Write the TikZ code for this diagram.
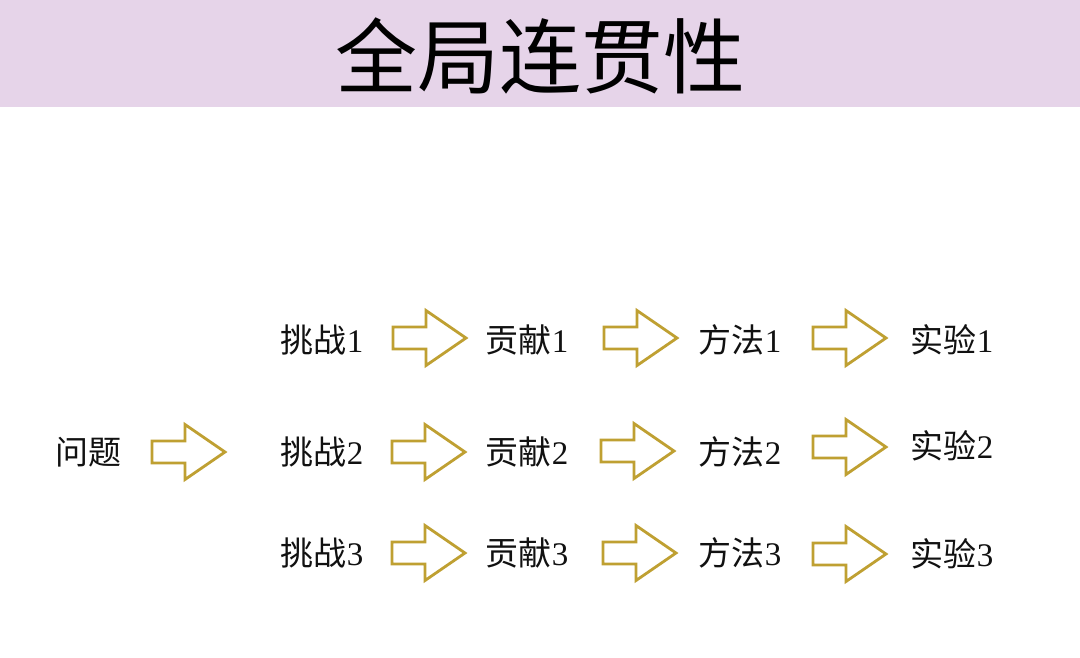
\documentclass[tikz,border=0pt]{standalone}
\usepackage{fontspec}
\setmainfont{Liberation Serif}
\newfontfamily\cjk{Noto Sans CJK SC}
\definecolor{titlebg}{HTML}{E6D4E9}
\definecolor{arrowgold}{HTML}{BFA032}
\definecolor{txt}{HTML}{111111}
\begin{document}
\begin{tikzpicture}[x=1pt,y=-1pt,
  lbl/.style={inner sep=0pt,text=txt,font=\fontsize{33}{33}\selectfont},
  barrow/.pic={\draw[arrowgold,line width=2.8pt,line join=miter,fill=white]
     (0,-11) -- (33,-11) -- (33,-27.5) -- (73,0) -- (33,27.5) -- (33,11) -- (0,11) -- cycle;}]
\useasboundingbox (0,0) rectangle (1080,657);
\fill[white] (0,0) rectangle (1080,657);
\fill[titlebg] (0,0) rectangle (1080,107);
\node[inner sep=0pt,text=black,font=\fontsize{82}{82}\selectfont\cjk] (title) at (540,56) {全局连贯性};
% left
\node[lbl] (q) at (88,452) {\cjk 问题};
\pic (aq) at (152,452) {barrow};
% row 1
\node[lbl] (c1) at (322,340) {{\cjk 挑战}1};
\pic (a11) at (393,338) {barrow};
\node[lbl] (g1) at (527,340) {{\cjk 贡献}1};
\pic (a12) at (604,338) {barrow};
\node[lbl] (m1) at (740,340) {{\cjk 方法}1};
\pic (a13) at (813,338) {barrow};
\node[lbl] (e1) at (952,340) {{\cjk 实验}1};
% row 2
\node[lbl] (c2) at (322,452) {{\cjk 挑战}2};
\pic (a21) at (392,452) {barrow};
\node[lbl] (g2) at (527,452) {{\cjk 贡献}2};
\pic (a22) at (601,451) {barrow};
\node[lbl] (m2) at (740,452) {{\cjk 方法}2};
\pic (a23) at (813,447) {barrow};
\node[lbl] (e2) at (952,446) {{\cjk 实验}2};
% row 3
\node[lbl] (c3) at (322,553) {{\cjk 挑战}3};
\pic (a31) at (392,553) {barrow};
\node[lbl] (g3) at (527,553) {{\cjk 贡献}3};
\pic (a32) at (603,553) {barrow};
\node[lbl] (m3) at (740,553) {{\cjk 方法}3};
\pic (a33) at (813,554) {barrow};
\node[lbl] (e3) at (952,554) {{\cjk 实验}3};
\end{tikzpicture}
\end{document}
